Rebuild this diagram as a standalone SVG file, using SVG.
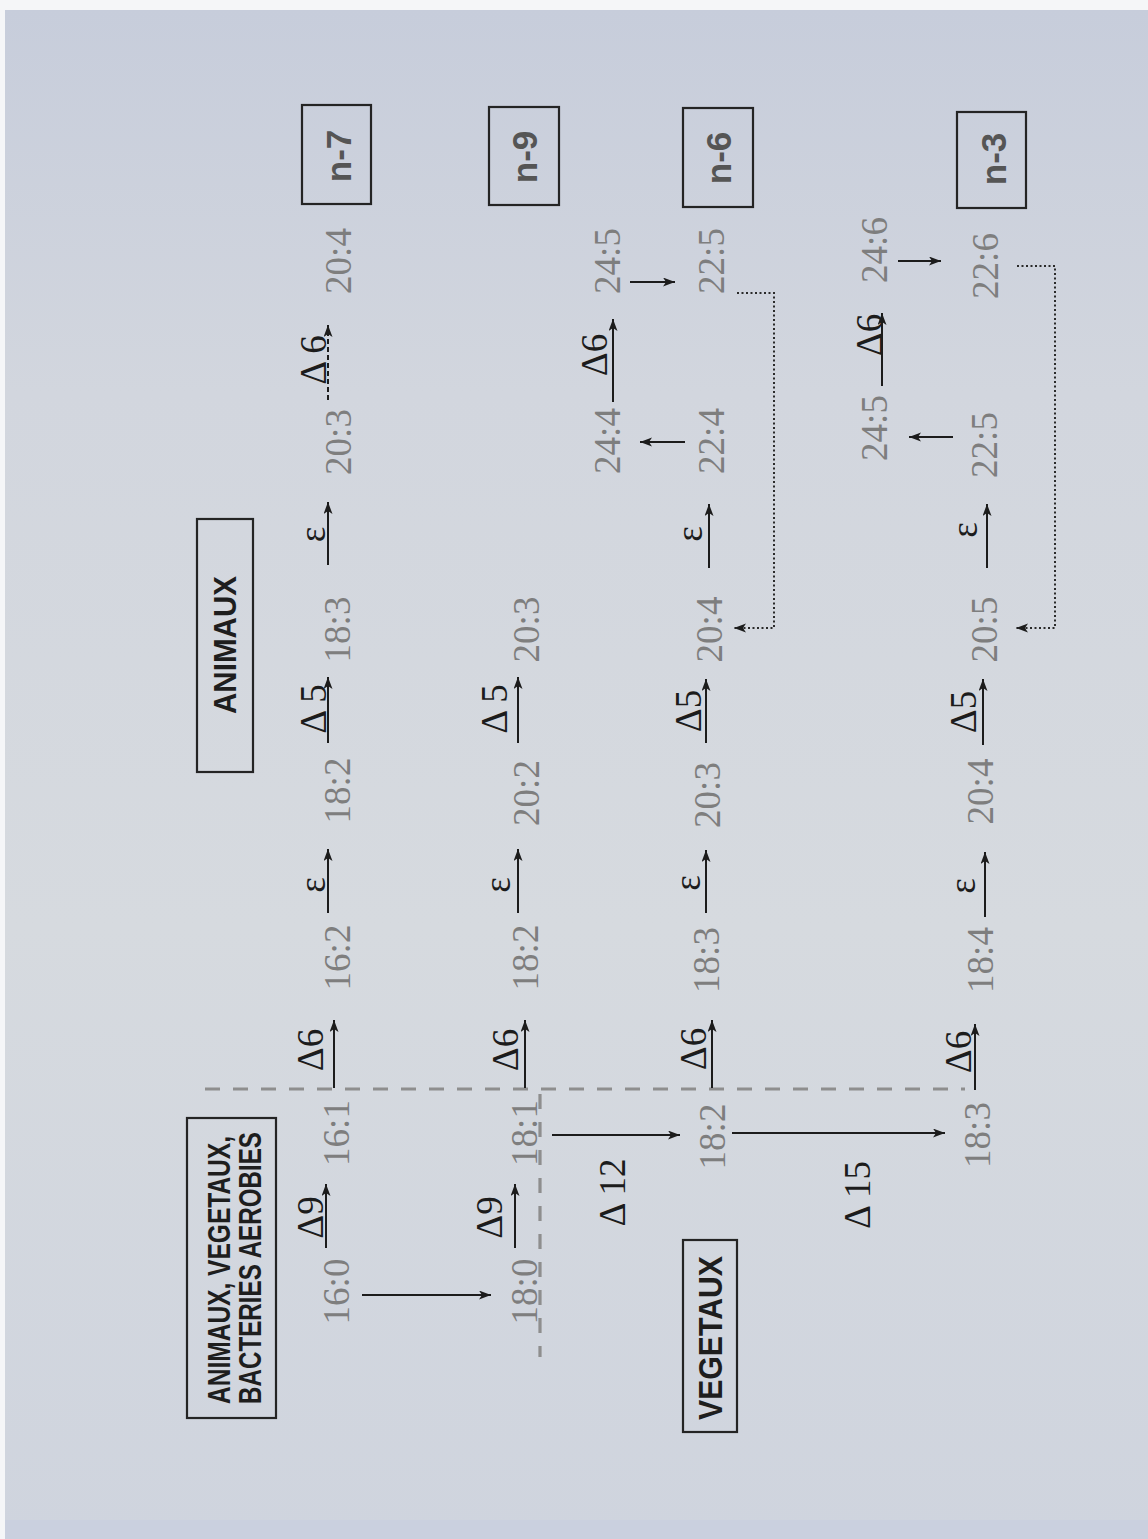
<svg xmlns="http://www.w3.org/2000/svg" width="1148" height="1539" viewBox="0 0 1148 1539">
<style>
.num{font-family:"Liberation Serif","Times New Roman",serif;font-size:37px;fill:#7e7e7e;text-anchor:middle}
.lab{font-family:"Liberation Serif","Times New Roman",serif;font-size:37px;fill:#1c1c1c;text-anchor:middle}
.box{fill:none;stroke:#242424;stroke-width:2.2}
.btxt{font-family:"Liberation Sans",Arial,sans-serif;font-weight:bold;fill:#1e1e1e;text-anchor:middle}
.ntxt{font-family:"Liberation Sans",Arial,sans-serif;font-weight:bold;font-size:35px;fill:#555555;text-anchor:middle}
.arr{stroke:#1c1c1c;stroke-width:2;fill:none;marker-end:url(#ah)}
.darr{stroke:#1c1c1c;stroke-width:2;fill:none;stroke-dasharray:5 3;marker-end:url(#ah)}
.dot{stroke:#2a2a2a;stroke-width:2;fill:none;stroke-dasharray:2 2.5;marker-end:url(#ah)}
.grey{stroke:#8e8e8e;stroke-width:3.2;fill:none;stroke-dasharray:15 13}
</style>
<defs>
<linearGradient id="pg" x1="0" y1="0" x2="0" y2="1">
<stop offset="0" stop-color="#c7cddb"/>
<stop offset="0.25" stop-color="#d2d6de"/>
<stop offset="0.6" stop-color="#d6dadf"/>
<stop offset="1" stop-color="#cfd4de"/>
</linearGradient>
<marker id="ah" markerUnits="userSpaceOnUse" markerWidth="14" markerHeight="10" refX="12" refY="4.5" orient="auto">
<path d="M0,0 L12,4.5 L0,9 L3,4.5 z" fill="#1c1c1c"/>
</marker>
</defs>
<rect x="0" y="0" width="1148" height="1539" fill="#f5f6f8"/>
<rect x="5" y="10" width="1143" height="1529" fill="url(#pg)"/>
<rect x="5" y="1520" width="1143" height="19" fill="#cad0df"/>

<g id="connectors">
<line class="grey" x1="205" y1="1089" x2="965" y2="1089"/>
<line class="grey" x1="540" y1="1094" x2="540" y2="1357"/>
<line class="arr" x1="326" y1="1248" x2="326" y2="1184"/>
<line class="arr" x1="334" y1="1088" x2="334" y2="1020"/>
<line class="arr" x1="328" y1="913" x2="328" y2="849"/>
<line class="arr" x1="328" y1="743" x2="328" y2="677"/>
<line class="arr" x1="328" y1="565" x2="328" y2="502"/>
<line class="darr" x1="328" y1="400" x2="328" y2="325"/>
<line class="arr" x1="515" y1="1248" x2="515" y2="1184"/>
<line class="arr" x1="525" y1="1088" x2="525" y2="1020"/>
<line class="arr" x1="518" y1="913" x2="518" y2="849"/>
<line class="arr" x1="518" y1="743" x2="518" y2="677"/>
<line class="arr" x1="712" y1="1088" x2="712" y2="1020"/>
<line class="arr" x1="706" y1="913" x2="706" y2="850"/>
<line class="arr" x1="706" y1="743" x2="706" y2="679"/>
<line class="arr" x1="709" y1="568" x2="709" y2="504"/>
<line class="arr" x1="613" y1="402" x2="613" y2="319"/>
<line class="arr" x1="685" y1="442" x2="640" y2="442"/>
<line class="arr" x1="630" y1="282" x2="675" y2="282"/>
<line class="arr" x1="975" y1="1090" x2="975" y2="1024"/>
<line class="arr" x1="985" y1="917" x2="985" y2="852"/>
<line class="arr" x1="983" y1="745" x2="983" y2="679"/>
<line class="arr" x1="987" y1="568" x2="987" y2="504"/>
<line class="arr" x1="882" y1="386" x2="882" y2="313"/>
<line class="arr" x1="953" y1="437" x2="909" y2="437"/>
<line class="arr" x1="898" y1="261" x2="941" y2="261"/>
<line class="arr" x1="362" y1="1295" x2="491" y2="1295"/>
<line class="arr" x1="552" y1="1135" x2="680" y2="1135"/>
<line class="arr" x1="732" y1="1133" x2="945" y2="1133"/>
<path class="dot" d="M737,293 H774 V628 H734"/>
<path class="dot" d="M1017,266 H1055 V628 H1016"/>
<text class="lab" transform="translate(323,1217.5) rotate(-90)">Δ9</text>
<text class="lab" transform="translate(323,1050) rotate(-90)">Δ6</text>
<text class="lab" transform="translate(325,885) rotate(-90)">ε</text>
<text class="lab" transform="translate(326,709) rotate(-90)">Δ 5</text>
<text class="lab" transform="translate(325,534.5) rotate(-90)">ε</text>
<text class="lab" transform="translate(326,360) rotate(-90)">Δ 6</text>
<text class="lab" transform="translate(502,1217.5) rotate(-90)">Δ9</text>
<text class="lab" transform="translate(518,1050) rotate(-90)">Δ6</text>
<text class="lab" transform="translate(510,885) rotate(-90)">ε</text>
<text class="lab" transform="translate(507,709) rotate(-90)">Δ 5</text>
<text class="lab" transform="translate(706,1049) rotate(-90)">Δ6</text>
<text class="lab" transform="translate(700,883) rotate(-90)">ε</text>
<text class="lab" transform="translate(701,711) rotate(-90)">Δ5</text>
<text class="lab" transform="translate(702,534) rotate(-90)">ε</text>
<text class="lab" transform="translate(607,355) rotate(-90)">Δ6</text>
<text class="lab" transform="translate(971,1052) rotate(-90)">Δ6</text>
<text class="lab" transform="translate(975,886) rotate(-90)">ε</text>
<text class="lab" transform="translate(976,712) rotate(-90)">Δ5</text>
<text class="lab" transform="translate(977,530) rotate(-90)">ε</text>
<text class="lab" transform="translate(882,335) rotate(-90)">Δ6</text>
<text class="lab" transform="translate(625,1192.5) rotate(-90)">Δ 12</text>
<text class="lab" transform="translate(870,1195) rotate(-90)">Δ 15</text>
</g>

<g id="box-aerobies">
<rect class="box" x="187" y="1118" width="89" height="300"/>
<text class="btxt" font-size="32" textLength="268" lengthAdjust="spacingAndGlyphs" transform="translate(230,1270) rotate(-90)">ANIMAUX, VEGETAUX,</text>
<text class="btxt" font-size="32" textLength="272" lengthAdjust="spacingAndGlyphs" transform="translate(261,1268) rotate(-90)">BACTERIES AEROBIES</text>
</g>
<g id="box-animaux">
<rect class="box" x="197" y="519" width="56" height="253"/>
<text class="btxt" font-size="32" textLength="138" lengthAdjust="spacingAndGlyphs" transform="translate(236,645) rotate(-90)">ANIMAUX</text>
</g>
<g id="box-vegetaux">
<rect class="box" x="683" y="1240" width="54" height="192"/>
<text class="btxt" font-size="34" textLength="164" lengthAdjust="spacingAndGlyphs" transform="translate(722,1338) rotate(-90)">VEGETAUX</text>
</g>
<g id="box-n7"><rect class="box" x="302" y="105" width="69" height="99"/><text class="ntxt" transform="translate(351,156) rotate(-90)">n-7</text></g>
<g id="box-n9"><rect class="box" x="489" y="107" width="70" height="98"/><text class="ntxt" transform="translate(537,157) rotate(-90)">n-9</text></g>
<g id="box-n6"><rect class="box" x="683" y="108" width="70" height="99"/><text class="ntxt" transform="translate(731,158) rotate(-90)">n-6</text></g>
<g id="box-n3"><rect class="box" x="957" y="112" width="69" height="96"/><text class="ntxt" transform="translate(1006,159) rotate(-90)">n-3</text></g>

<g id="r1-16-0"><text class="num" transform="translate(349,1291.5) rotate(-90)">16:0</text></g>
<g id="r1-16-1"><text class="num" transform="translate(349,1133) rotate(-90)">16:1</text></g>
<g id="r1-16-2"><text class="num" transform="translate(350,957.5) rotate(-90)">16:2</text></g>
<g id="r1-18-2"><text class="num" transform="translate(350,790.5) rotate(-90)">18:2</text></g>
<g id="r1-18-3"><text class="num" transform="translate(350,629.5) rotate(-90)">18:3</text></g>
<g id="r1-20-3"><text class="num" transform="translate(351,442) rotate(-90)">20:3</text></g>
<g id="r1-20-4"><text class="num" transform="translate(351,261) rotate(-90)">20:4</text></g>

<g id="r2-18-0"><text class="num" transform="translate(537,1291.5) rotate(-90)">18:0</text></g>
<g id="r2-18-1"><text class="num" transform="translate(537,1133) rotate(-90)">18:1</text></g>
<g id="r2-18-2"><text class="num" transform="translate(538,957.5) rotate(-90)">18:2</text></g>
<g id="r2-20-2"><text class="num" transform="translate(539,793) rotate(-90)">20:2</text></g>
<g id="r2-20-3"><text class="num" transform="translate(539,629.5) rotate(-90)">20:3</text></g>

<g id="r3-18-2"><text class="num" transform="translate(725,1136.5) rotate(-90)">18:2</text></g>
<g id="r3-18-3"><text class="num" transform="translate(719,960) rotate(-90)">18:3</text></g>
<g id="r3-20-3"><text class="num" transform="translate(720,795) rotate(-90)">20:3</text></g>
<g id="r3-20-4"><text class="num" transform="translate(722,629.5) rotate(-90)">20:4</text></g>
<g id="r3-22-4"><text class="num" transform="translate(724,441) rotate(-90)">22:4</text></g>
<g id="r3-24-4"><text class="num" transform="translate(620,441) rotate(-90)">24:4</text></g>
<g id="r3-24-5"><text class="num" transform="translate(620,261) rotate(-90)">24:5</text></g>
<g id="r3-22-5"><text class="num" transform="translate(724,261) rotate(-90)">22:5</text></g>

<g id="r4-18-3"><text class="num" transform="translate(990,1135) rotate(-90)">18:3</text></g>
<g id="r4-18-4"><text class="num" transform="translate(993,960) rotate(-90)">18:4</text></g>
<g id="r4-20-4"><text class="num" transform="translate(993,791.5) rotate(-90)">20:4</text></g>
<g id="r4-20-5"><text class="num" transform="translate(997,629.5) rotate(-90)">20:5</text></g>
<g id="r4-22-5"><text class="num" transform="translate(997,445) rotate(-90)">22:5</text></g>
<g id="r4-24-5"><text class="num" transform="translate(887,428) rotate(-90)">24:5</text></g>
<g id="r4-24-6"><text class="num" transform="translate(887,250) rotate(-90)">24:6</text></g>
<g id="r4-22-6"><text class="num" transform="translate(998,266) rotate(-90)">22:6</text></g>
</svg>
